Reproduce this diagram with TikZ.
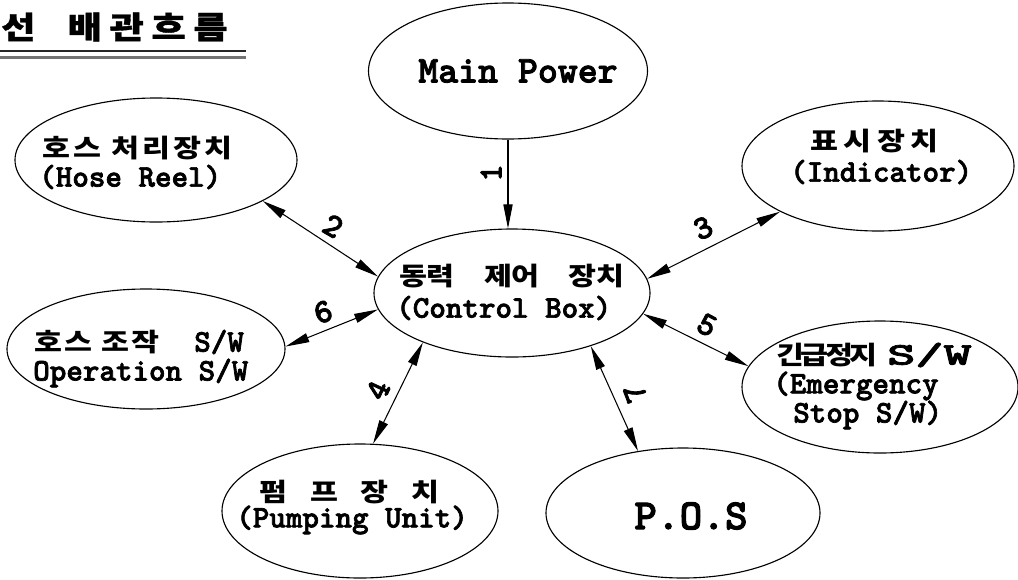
\documentclass[tikz,border=0pt]{standalone}
\usepackage{fontspec}
\usetikzlibrary{shapes.geometric,arrows.meta}
\newfontfamily\krfont{Noto Sans CJK KR}[FakeStretch=1.2]
\newfontfamily\krtitle{Noto Sans CJK KR}[FakeStretch=1.2, FakeBold=1.2]
\newfontfamily\enfont{lmmonolt10-bold.otf}[FakeBold=2.2]
\newcommand\lsp[1]{\addfontfeature{LetterSpace=#1}}
\tikzset{
  oval/.style 2 args={draw, ellipse, line width=0.8pt, minimum width=#1*0.025cm, minimum height=#2*0.025cm, inner sep=0pt},
  en/.style={font=\enfont\fontsize{22.4}{25}\selectfont, inner sep=0pt, anchor=west},
  ko/.style={font=\krfont\bfseries\fontsize{18}{20}\selectfont, inner sep=0pt, anchor=west},
  num/.style={font=\enfont\fontsize{24}{26}\selectfont, inner sep=0pt},
  ttl/.style={font=\krtitle\bfseries\fontsize{22}{24}\selectfont\lsp{25}, inner sep=0pt, anchor=west},
  tip/.tip={Triangle[length=6mm,width=2.3mm]},
  link/.style={line width=0.75pt, -tip},
  dlink/.style={line width=0.75pt, tip-tip},
}
\begin{document}
\begin{tikzpicture}[x=0.025cm, y=-0.025cm]
\useasboundingbox (0,0) rectangle (1018,579);
% title
\node[ttl] (title) at (1,27) {선\hspace{23pt}배관흐름};
\draw[line width=1.2pt, black!85] (0,51) -- (246,51);
\draw[line width=1.8pt, black!55] (0,57.5) -- (246,57.5);
% ellipses
\node[oval={279}{136}] (main) at (508,71) {};
\node[oval={282}{124}] (hose) at (156,160) {};
\node[oval={272}{130}] (ind)  at (878,166) {};
\node[oval={276}{128}] (ctrl) at (512,293) {};
\node[oval={278}{120}] (oper) at (146,349) {};
\node[oval={276}{132}] (emer) at (880,387) {};
\node[oval={276}{134}] (pump) at (360,511) {};
\node[oval={274}{130}] (pos)  at (683,513) {};
% texts
\node[en, anchor=center, font=\enfont\fontsize{27}{30}\selectfont] (mainT) at (518,71) {Main Power};
\node[ko] (hoseK) at (42,148) {\lsp{12}호스 처리장치};
\node[en] (hoseE) at (39,177) {(Hose Reel)};
\node[ko] (indK) at (810,141) {\lsp{22}표시장치};
\node[en] (indE) at (790,172) {(Indicator)};
\node[ko] (ctrlK) at (399,276) {\lsp{-2}동력　제어　장치};
\node[en] (ctrlE) at (396,308) {(Control Box)};
\node[ko] (operK) at (34,342) {\lsp{8}호스 조작};
\node[en] (operS) at (194,342) {S/W};
\node[en] (operE) at (33,373) {Operation S/W};
\node[ko] (emerK) at (776,355) {\lsp{-14}긴급정지};
\node[en] (emerS) at (887,355) {\scalebox{1.7}[1.0]{S/W}};
\node[en] (emerE) at (773,386) {(Emergency};
\node[en] (emerF) at (793,415) {Stop S/W)};
\node[ko] (pumpK) at (259,492) {\lsp{-15}펌　프　장　치};
\node[en] (pumpE) at (236,520) {(Pumping Unit)};
\node[en, anchor=center, font=\enfont\fontsize{30.7}{33}\selectfont] (posT) at (691,516) {P.O.S};
% connectors
\draw[link] (main.south) -- (main.south |- ctrl.north);
\draw[dlink] (hose.-21) -- (ctrl.173);
\draw[dlink] (ctrl.6) -- (ind.205);
\draw[dlink] (ctrl.209) -- (pump.79);
\draw[dlink] (ctrl.-9) -- (emer.171);
\draw[dlink] (oper.1) -- (ctrl.187);
\draw[dlink] (ctrl.-34) -- (pos.126);
% labels
\node[num, rotate=90]  (n1) at (491,173) {1};
\node[num, rotate=-30] (n2) at (333,226) {2};
\node[num, rotate=25]  (n3) at (703,228) {3};
\node[num, rotate=65]  (n4) at (378,390) {4};
\node[num, rotate=-28] (n5) at (707,325) {5};
\node[num, rotate=20]  (n6) at (323,312) {6};
\node[num, rotate=111] (n7) at (635,393) {7};
\end{tikzpicture}
\end{document}
